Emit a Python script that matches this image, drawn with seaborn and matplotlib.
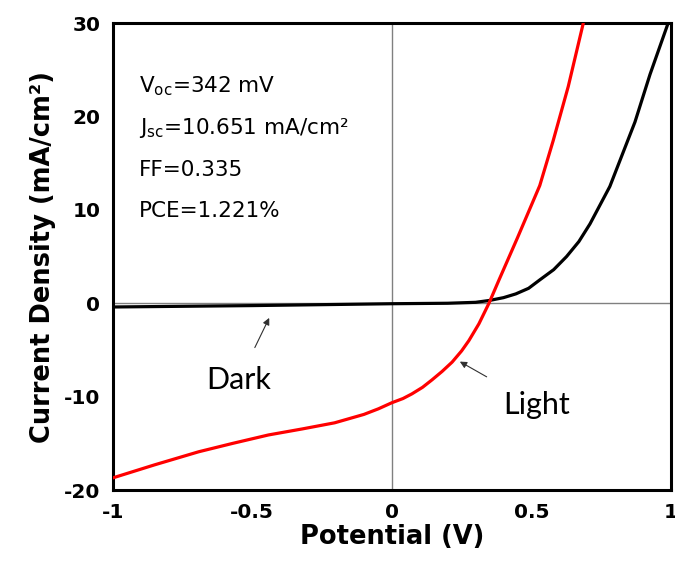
#Script for J-V curve of the solar cell (light and dark)

import pandas as pd
import matplotlib
matplotlib.use("Agg")
import matplotlib.pyplot as plt
import seaborn as sns

# light curve (V, mA/cm2)
light_v = [-1.0, -0.85, -0.692, -0.57, -0.442, -0.32, -0.205, -0.1, -0.048, 0.0,
           0.04, 0.072, 0.11, 0.144, 0.18, 0.216, 0.25, 0.276, 0.312, 0.348,
           0.384, 0.45, 0.49, 0.53, 0.578, 0.632, 0.686]
light_j = [-18.7, -17.3, -15.9, -15.0, -14.1, -13.45, -12.8, -11.9, -11.3, -10.65,
           -10.2, -9.7, -9.0, -8.2, -7.3, -6.3, -5.1, -4.0, -2.2, 0.0,
           2.5, 7.0, 9.8, 12.6, 17.4, 23.2, 30.0]

# dark curve
dark_v = [-1.0, -0.5, 0.0, 0.2, 0.3, 0.35, 0.4, 0.444, 0.49, 0.53,
          0.58, 0.626, 0.67, 0.71, 0.781, 0.871, 0.925, 0.99]
dark_j = [-0.4, -0.25, -0.05, 0.0, 0.1, 0.3, 0.6, 1.0, 1.6, 2.5,
          3.6, 5.0, 6.6, 8.5, 12.5, 19.4, 24.5, 30.0]

x_ticks = [-1, -0.5, 0, 0.5, 1]
x_tick_labels = ["-1", "-0.5", "0", "0.5", "1"]
y_ticks = [-20, -10, 0, 10, 20, 30]

stats_lines = ["V$_{oc}$=342 mV", "J$_{sc}$=10.651 mA/cm²", "FF=0.335", "PCE=1.221%"]


def plot_jv():
    sns.set_style("white")
    plt.rcParams['font.family'] = ['DejaVu Sans']
    plt.rcParams['mathtext.default'] = 'regular'
    plt.rcParams['axes.unicode_minus'] = False
    plt.rcParams['text.color'] = 'black'
    plt.rcParams['axes.labelcolor'] = 'black'
    plt.rcParams['xtick.color'] = 'black'
    plt.rcParams['ytick.color'] = 'black'

    light = pd.DataFrame({'V': light_v, 'J': light_j})
    dark = pd.DataFrame({'V': dark_v, 'J': dark_j})

    fig = plt.figure(figsize=(6.75, 5.62), dpi=100)
    ax = fig.add_axes([0.167, 0.128, 0.827, 0.831])

    # crosshair at origin
    ax.axhline(0, color='#808080', lw=1.0, zorder=1)
    ax.axvline(0, color='#808080', lw=1.0, zorder=1)

    sns.lineplot(data=dark, x='V', y='J', color='black', lw=2.3, ax=ax,
                 estimator=None, sort=False, zorder=3)
    sns.lineplot(data=light, x='V', y='J', color='#ff0000', lw=2.3, ax=ax,
                 estimator=None, sort=False, zorder=4)

    ax.set_xlim(-1, 1)
    ax.set_ylim(-20, 30)
    ax.set_xticks(x_ticks)
    ax.set_xticklabels(x_tick_labels)
    ax.set_yticks(y_ticks)
    ax.tick_params(length=0, labelsize=14.5, pad=9)
    for lbl in ax.get_xticklabels() + ax.get_yticklabels():
        lbl.set_fontweight('bold')

    ax.set_xlabel('Potential (V)', fontsize=18.5, fontweight='bold', labelpad=2)
    ax.set_ylabel('Current Density (mA/cm²)', fontsize=18.5, fontweight='bold', labelpad=6)

    for side in ax.spines.values():
        side.set_color('black')
        side.set_linewidth(2.2)

    # stats text
    for i, line in enumerate(stats_lines):
        ax.text(-0.905, 23.2 - i * 4.45, line, fontsize=15.5, va='center', ha='left')

    arrow = dict(arrowstyle='-|>', color='#303030', lw=0.8, mutation_scale=10)
    ax.annotate('Dark', xy=(-0.435, -1.3), xytext=(-0.547, -8.2), fontsize=22,
                family=['Lato', 'DejaVu Sans'], ha='center', va='center',
                arrowprops=dict(arrow, shrinkA=12))
    ax.annotate('Light', xy=(0.235, -6.1), xytext=(0.518, -10.9), fontsize=22,
                family=['Lato', 'DejaVu Sans'], ha='center', va='center',
                arrowprops=dict(arrow, shrinkA=16))

    fig.savefig('out.png', dpi=100)
    print("Saved to out.png")


if __name__ == "__main__":
    plot_jv()
